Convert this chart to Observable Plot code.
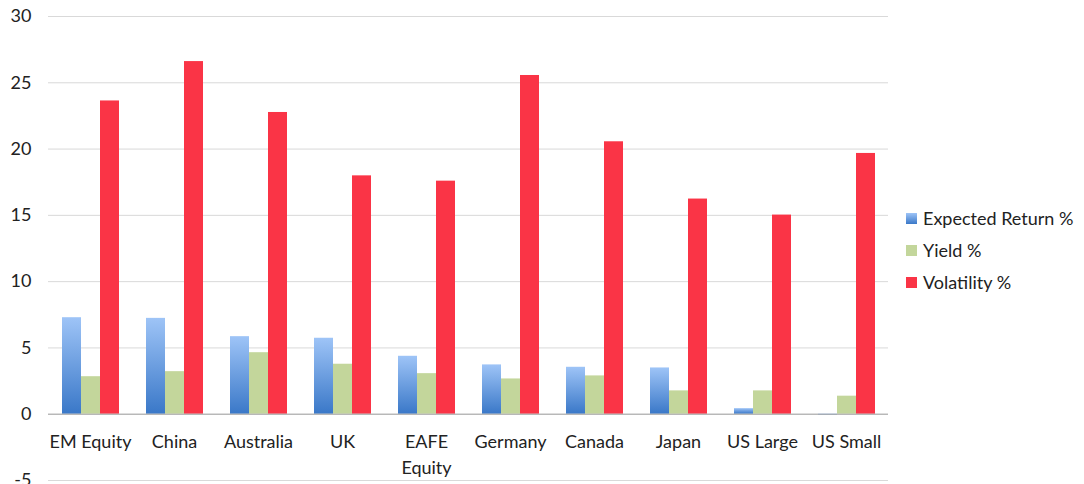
<!DOCTYPE html>
<html>
<head>
<meta charset="utf-8">
<script src="https://cdn.jsdelivr.net/npm/d3@7"></script>
<script src="https://cdn.jsdelivr.net/npm/@observablehq/plot@0.6"></script>
<style>
  html, body { margin: 0; padding: 0; background: #fff; }
  #wrap { position: relative; width: 1084px; height: 484px; overflow: hidden; font-family: Lato, "Open Sans", sans-serif; }
  #legend { position: absolute; left: 906px; top: 202px; font-size: 18px; color: #222; }
  #legend .row { display: flex; align-items: center; height: 32px; }
  #legend .sw { width: 11px; height: 11px; margin-right: 6px; }
</style>
</head>
<body>
<div id="wrap"><div id="chart"></div><div id="legend"></div></div>
<script>
const categories = ["EM Equity", "China", "Australia", "UK", "EAFE Equity", "Germany", "Canada", "Japan", "US Large", "US Small"];
const seriesNames = ["Expected Return %", "Yield %", "Volatility %"];
const expectedReturn = [7.28, 7.23, 5.85, 5.73, 4.37, 3.72, 3.54, 3.49, 0.42, -0.05];
const yieldPct = [2.83, 3.21, 4.64, 3.77, 3.06, 2.66, 2.89, 1.76, 1.76, 1.36];
const volatility = [23.63, 26.6, 22.76, 17.98, 17.58, 25.55, 20.55, 16.23, 15.02, 19.67];
const yTicks = [-5, 0, 5, 10, 15, 20, 25, 30];
const seriesColors = ["url(#blueGrad)", "#c3d69b", "#fa3446"];
const legendColors = ["linear-gradient(#9ec4f7, #3a78c8)", "#c3d69b", "#fa3446"];

const seriesValues = [expectedReturn, yieldPct, volatility];
const data = categories.flatMap((c, i) =>
  seriesNames.map((s, j) => ({category: c, series: s, value: seriesValues[j][i]}))
);

const chart = Plot.plot({
  width: 1084,
  height: 484,
  marginLeft: 47,
  marginRight: 196,
  marginTop: 16,
  marginBottom: 4,
  style: {fontFamily: "Lato, 'Open Sans', sans-serif", fontSize: "18px", color: "#222", background: "#fff"},
  fx: {domain: categories, padding: 0, axis: null, label: null},
  x: {domain: seriesNames, paddingInner: 0, paddingOuter: 0.71, axis: null, label: null},
  y: {domain: [-5, 30], axis: null, label: null},
  color: {domain: seriesNames, range: seriesColors},
  marks: [
    Plot.gridY(yTicks, {stroke: "#d9d9d9", strokeOpacity: 1}),
    Plot.axisY(yTicks, {tickSize: 0, tickPadding: 17, fontSize: 18, fill: "#222", label: null, tickFormat: d => String(d)}),
    Plot.ruleX([categories[0]], {fx: d => d, y1: -5, y2: 30, frameAnchor: "left", stroke: "#c8c8c8"}),
    Plot.ruleX([categories[categories.length - 1]], {fx: d => d, y1: -5, y2: 30, frameAnchor: "right", stroke: "#e0e0e0"}),
    Plot.barY(data, {fx: "category", x: "series", y: "value", fill: "series"}),
    Plot.ruleY([0], {stroke: "#a6a6a6"}),
    Plot.ruleX(categories, {fx: d => d, y1: 0, y2: -0.45, frameAnchor: "left", stroke: "#a6a6a6"}),
    Plot.text(categories, {
      fx: d => d,
      y: () => 0,
      text: d => d === "EAFE Equity" ? "EAFE\nEquity" : d,
      lineAnchor: "top",
      dy: 15,
      lineHeight: 1.46,
      fontSize: 18,
      fill: "#222"
    })
  ]
});

// gradient for the blue series
const ns = "http://www.w3.org/2000/svg";
const defs = document.createElementNS(ns, "defs");
const grad = document.createElementNS(ns, "linearGradient");
grad.setAttribute("id", "blueGrad");
grad.setAttribute("x1", "0"); grad.setAttribute("y1", "0");
grad.setAttribute("x2", "0"); grad.setAttribute("y2", "1");
[["0%", "#9ec4f7"], ["100%", "#3a78c8"]].forEach(([o, c]) => {
  const st = document.createElementNS(ns, "stop");
  st.setAttribute("offset", o);
  st.setAttribute("stop-color", c);
  grad.appendChild(st);
});
defs.appendChild(grad);
chart.insertBefore(defs, chart.firstChild);
document.getElementById("chart").appendChild(chart);

const legend = document.getElementById("legend");
seriesNames.forEach((s, i) => {
  const row = document.createElement("div");
  row.className = "row";
  const sw = document.createElement("div");
  sw.className = "sw";
  sw.style.background = legendColors[i];
  const t = document.createElement("span");
  t.textContent = s;
  row.appendChild(sw);
  row.appendChild(t);
  legend.appendChild(row);
});
</script>
</body>
</html>
